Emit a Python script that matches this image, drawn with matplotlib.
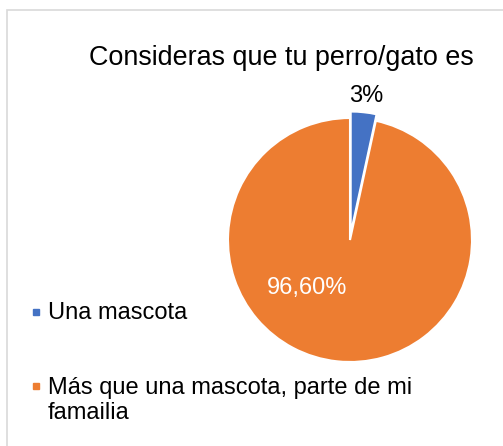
import matplotlib.pyplot as plt
from matplotlib.patches import Rectangle

plt.rcParams["font.family"] = ["Liberation Sans", "DejaVu Sans"]

categories = ["Una mascota", "Más que una mascota, parte de mi\nfamailia"]
values = [3.4, 96.6]
value_labels = ["3%", "96,60%"]
colors = ["#4472C4", "#ED7D31"]
title = "Consideras que tu perro/gato es"

W, H = 503, 446
fig = plt.figure(figsize=(W / 100, H / 100), dpi=100)
ax = fig.add_axes([0, 0, 1, 1])
ax.axis("off")

# chart border (only top/left visible in the crop)
ax.add_patch(Rectangle((7.5, -10), W + 20, H - 9.5 + 10, fill=False,
                       edgecolor="#D9D9D9", linewidth=1.2))

# explode is in data units here (pixels)
ax.pie(values, colors=colors, startangle=90, counterclock=False,
       center=(350, H - 240), radius=122, explode=[6.5, 0],
       wedgeprops=dict(edgecolor="white", linewidth=1.5))
ax.set_xlim(0, W)
ax.set_ylim(0, H)
ax.set_aspect("equal")

ax.text(281, H - 58, title, ha="center", va="center", fontsize=19.4, color="black")

ax.text(366, H - 96, value_labels[0], ha="center", va="center", fontsize=17, color="black")
ax.text(307, H - 288, value_labels[1], ha="center", va="center", fontsize=17, color="white")

# legend
leg_y = [312, 386]
for cat, col, y in zip(categories, colors, leg_y):
    ax.plot(36, H - y, marker="s", markersize=5, color=col, linestyle="none")
    if "\n" in cat:
        ax.text(48, H - y + 9, cat, ha="left", va="top", fontsize=17,
                color="black", linespacing=1.15)
    else:
        ax.text(48, H - y - 1, cat, ha="left", va="center", fontsize=17, color="black")

fig.savefig("out.png", dpi=100, facecolor="white")
